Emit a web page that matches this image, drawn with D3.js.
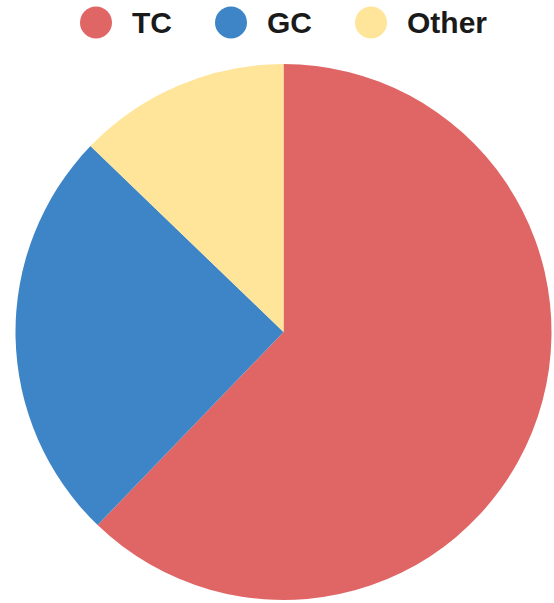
<!DOCTYPE html>
<html lang="en">
	<head>
		<meta charset="utf-8">
		<title>Pie</title>
		<script src="https://cdnjs.cloudflare.com/ajax/libs/d3/7.8.5/d3.min.js"></script>
		<style type="text/css">
			html, body {
				margin: 0;
				padding: 0;
				background: white;
			}
			.legend-label {
				font-family: "Liberation Sans", Arial, sans-serif;
				font-weight: bold;
				font-size: 30px;
				fill: #1a1a1a;
			}
		</style>
	</head>
	<body>
		<svg id="chart" width="554" height="603"></svg>

		<script type="text/javascript">

			var width  = 554;
			var height = 603;

			// slice data, clockwise from 12 o'clock
			var categories = ["TC", "GC", "Other"];
			var values     = [62.2, 25.0, 12.8];
			var colours    = ["#e06666", "#3d85c6", "#ffe599"];

			var cx = 283.5;
			var cy = 332;
			var radius = 268;

			var svg = d3.select("#chart");

			var colour = d3.scaleOrdinal()
				.domain(categories)
				.range(colours);

			var pie = d3.pie()
				.sort(null)
				.value(function (d) { return d.value; });

			var arc = d3.arc()
				.innerRadius(0)
				.outerRadius(radius);

			var slices = categories.map(function (c, i) {
				return { name: c, value: values[i] };
			});

			svg.append("g")
				.attr("transform", "translate(" + cx + "," + cy + ")")
				.selectAll("path")
				.data(pie(slices))
				.enter()
				.append("path")
				.attr("d", arc)
				.style("fill", function (d) { return colour(d.data.name); });

			//---------------------------------------------
			// legend - centred row at the top
			//---------------------------------------------
			var dot_r = 16;
			var dot_gap = 20;   // dot edge to text
			var item_gap = 43;  // text end to next dot

			var legend = svg.append("g").attr("class", "legend");

			var items = legend.selectAll("g")
				.data(categories)
				.enter()
				.append("g");

			items.append("circle")
				.attr("r", dot_r)
				.attr("cy", 22.5)
				.style("fill", function (d) { return colour(d); });

			items.append("text")
				.attr("class", "legend-label")
				.attr("y", 33)
				.text(function (d) { return d; });

			var x = 0;
			items.each(function () {
				var g = d3.select(this);
				var w = g.select("text").node().getComputedTextLength();
				g.select("circle").attr("cx", x + dot_r);
				g.select("text").attr("x", x + 2 * dot_r + dot_gap);
				x += 2 * dot_r + dot_gap + w + item_gap;
			});
			var total = x - item_gap;
			legend.attr("transform", "translate(" + (cx - total / 2) + ",0)");

		</script>
	</body>
</html>
